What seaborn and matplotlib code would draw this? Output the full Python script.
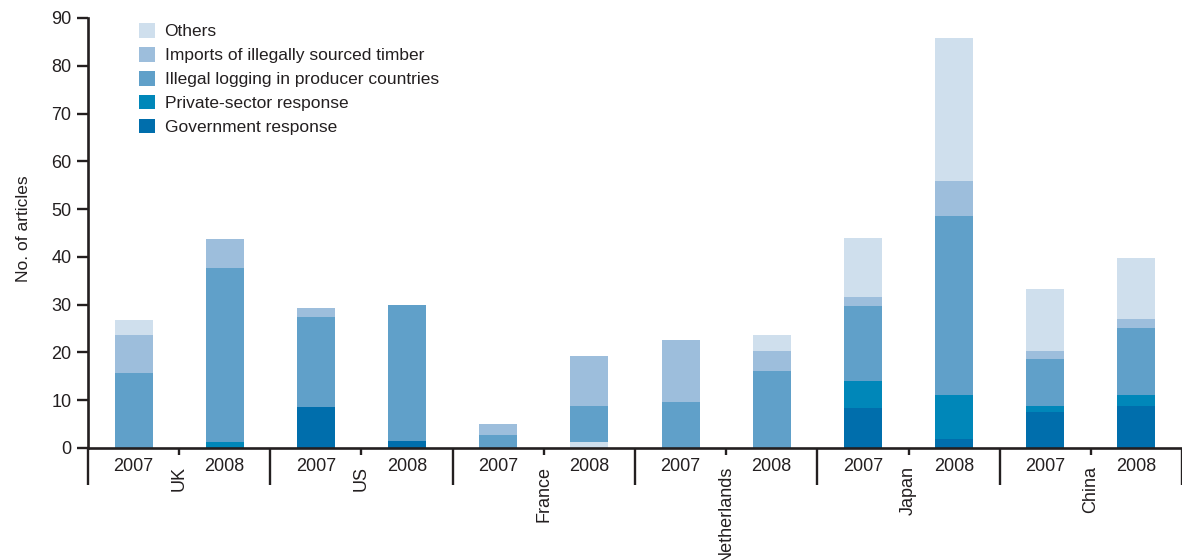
import numpy as np
import pandas as pd
import matplotlib
matplotlib.use("Agg")
import matplotlib.pyplot as plt
from matplotlib.patches import Patch
import seaborn as sns

countries = ['UK', 'US', 'France', 'Netherlands', 'Japan', 'China']
years = ['2007', '2008']

# one value per bar: UK07, UK08, US07, US08, FR07, FR08, NL07, NL08, JP07, JP08, CN07, CN08
government = [0, 0, 8.6, 1.5, 0, 0, 0, 0, 8.4, 1.8, 7.5, 8.8]
private_sector = [0, 1.3, 0, 0, 0, 0, 0, 0, 5.6, 9.3, 1.3, 2.3]
illegal_logging = [15.7, 36.3, 18.9, 28.5, 2.7, 7.6, 9.6, 16.2, 15.8, 37.5, 9.9, 14.1]
imports = [8.0, 6.1, 1.9, 0, 2.3, 10.5, 13.1, 4.0, 1.7, 7.3, 1.5, 1.7]
others = [3.1, 0, 0, 0, 0, 0, 0, 3.5, 12.4, 29.9, 13.0, 12.8]
# small "others" strip sitting under France 2008
others_base = [0, 0, 0, 0, 0, 1.2, 0, 0, 0, 0, 0, 0]

series_names = ['Others', 'Imports of illegally sourced timber',
                'Illegal logging in producer countries',
                'Private-sector response', 'Government response']
colors = {
    'Others': '#cfdfed',
    'Imports of illegally sourced timber': '#9dbedc',
    'Illegal logging in producer countries': '#60a0c9',
    'Private-sector response': '#0087b9',
    'Government response': '#006eac',
}
ink = '#231f20'

sns.set_theme(style="ticks")
plt.rcParams['font.family'] = ['Liberation Sans', 'DejaVu Sans']
plt.rcParams['text.color'] = ink

bars = [f"{c} {y}" for c in countries for y in years]
df = pd.DataFrame({
    'bar': bars,
    'base': others_base,
    'gov': government,
    'priv': private_sector,
    'log': illegal_logging,
    'imp': imports,
    'oth': others,
})
# cumulative stack, bottom-up
layers = [('base', 'Others'), ('gov', 'Government response'),
          ('priv', 'Private-sector response'),
          ('log', 'Illegal logging in producer countries'),
          ('imp', 'Imports of illegally sourced timber'), ('oth', 'Others')]
cols = [k for k, _ in layers]
cum = df[cols].cumsum(axis=1)

fig = plt.figure(figsize=(11.82, 5.6), dpi=100)
ax = fig.add_axes([88 / 1182, 112 / 560, 1094 / 1182, 430 / 560])

# draw tallest first so lower segments paint over it
for key, name in reversed(layers):
    sns.barplot(x=df['bar'], y=cum[key], order=bars, color=colors[name],
                saturation=1, width=0.416, linewidth=0, errorbar=None, ax=ax)

ax.set_xlim(-0.5, 11.365)
ax.set_ylim(0, 90)
ax.set_yticks(np.arange(0, 91, 10))
ax.set_xlabel('')
ax.set_ylabel('No. of articles', fontsize=12.5, color=ink)
ax.yaxis.set_label_coords(-0.052, 0.51)

sns.despine(ax=ax)
for side in ['left', 'bottom']:
    ax.spines[side].set_linewidth(1.9)
    ax.spines[side].set_color(ink)

ax.tick_params(axis='y', length=8, width=1.7, color=ink, labelsize=13,
               labelcolor=ink, pad=4)

# year labels under each bar, long separators between countries
ax.set_xticks(np.arange(len(bars)), labels=[y for _ in countries for y in years])
ax.set_xticks(np.arange(-0.5, len(bars), 2), minor=True)
ax.tick_params(axis='x', which='major', length=0, labelsize=13,
               labelcolor=ink, pad=7)
ax.tick_params(axis='x', which='minor', length=26.5, width=1.7, color=ink)

# country names under short ticks
sec = ax.secondary_xaxis('bottom')
sec.set_xticks(np.arange(0.5, len(bars), 2), labels=countries, rotation=90)
sec.tick_params(axis='x', length=5, width=1.7, color=ink, labelsize=13,
                labelcolor=ink, pad=8)
sec.spines['bottom'].set_visible(False)

handles = [Patch(facecolor=colors[n], edgecolor='none', label=n) for n in series_names]
fig.legend(handles=handles, loc='upper left',
           bbox_to_anchor=(139 / 1182, 1 - 23 / 560), frameon=False,
           fontsize=12.5, borderpad=0, handlelength=0.92, handleheight=0.92,
           handletextpad=0.55, labelspacing=0.44, borderaxespad=0)

fig.savefig('out.png', dpi=100)
